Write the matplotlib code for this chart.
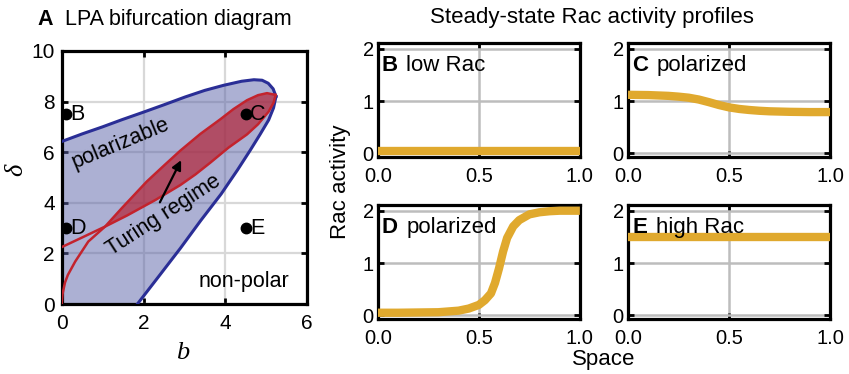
import matplotlib
matplotlib.use("Agg")
import matplotlib.pyplot as plt

plt.rcParams["font.family"] = ["Liberation Sans", "DejaVu Sans"]

# ---- panel A: LPA bifurcation diagram ----
blue_upper_b = [0.0, 0.5, 1.0, 1.47, 2.0, 2.5, 3.02, 3.5, 3.96, 4.4, 4.7, 4.9, 5.05, 5.17, 5.24]
blue_upper_d = [6.42, 6.72, 7.0, 7.28, 7.58, 7.87, 8.18, 8.44, 8.64, 8.8, 8.86, 8.84, 8.72, 8.5, 8.2]
blue_lower_b = [5.24, 5.18, 5.06, 4.85, 4.6, 4.3, 3.9, 3.4, 2.9, 2.4, 1.85]
blue_lower_d = [8.2, 7.75, 7.27, 6.7, 6.05, 5.3, 4.35, 3.3, 2.2, 1.15, 0.0]

turing1_b = [0.0, 0.02, 0.08, 0.15, 0.33, 0.65, 1.06, 1.47, 2.08, 2.5, 2.9, 3.39, 3.88, 4.2, 4.53, 4.8, 5.02, 5.23]
turing1_d = [0.0, 0.4, 0.85, 1.15, 1.68, 2.47, 3.06, 3.79, 4.84, 5.47, 6.06, 6.72, 7.3, 7.7, 8.05, 8.25, 8.33, 8.26]
turing2_b = [0.0, 0.5, 1.06, 1.6, 2.29, 2.9, 3.27, 3.63, 4.08, 4.53, 4.8, 5.06, 5.18, 5.23]
turing2_d = [2.25, 2.63, 3.06, 3.5, 4.11, 4.7, 5.12, 5.58, 6.18, 6.7, 7.1, 7.6, 7.95, 8.26]

point_names = ["B", "C", "D", "E"]
point_b = [0.1, 4.5, 0.1, 4.5]
point_d = [7.5, 7.5, 3.0, 3.0]

# ---- panels B-E: steady-state profiles ----
space_flat = [0.0, 1.0]
rac_B = [0.05, 0.05]
rac_E = [1.5, 1.5]
space_C = [0.0, 0.1, 0.2, 0.25, 0.3, 0.35, 0.4, 0.45, 0.5, 0.55, 0.6, 0.65, 0.7, 0.8, 0.9, 1.0]
rac_C = [1.12, 1.115, 1.1, 1.085, 1.065, 1.03, 0.98, 0.925, 0.88, 0.85, 0.83, 0.815, 0.805,
         0.795, 0.79, 0.79]
space_D = [0.0, 0.1, 0.2, 0.3, 0.4, 0.45, 0.5, 0.53, 0.56, 0.58, 0.6, 0.62, 0.64,
           0.67, 0.7, 0.75, 0.8, 0.85, 0.9, 1.0]
rac_D = [0.05, 0.05, 0.055, 0.06, 0.09, 0.13, 0.2, 0.29, 0.42, 0.62, 0.9, 1.22, 1.48,
         1.7, 1.82, 1.93, 1.97, 1.99, 2.0, 2.0]

BLUE_FILL = "#5a62a8"
BLUE_LINE = "#2a2e96"
RED_FILL = "#b22337"
RED_LINE = "#c3232d"
GOLD = "#e0a92e"


def style_box(ax, pad_x, pad_y, size):
    for s in ax.spines.values():
        s.set_linewidth(2.3)
    ax.tick_params(direction="in", top=True, right=True, length=4, width=2,
                   labelsize=size)
    ax.tick_params(axis="x", pad=pad_x)
    ax.tick_params(axis="y", pad=pad_y)
    ax.set_axisbelow(True)


fig = plt.figure(figsize=(8.49, 3.74), dpi=100)

# panel A
axA = fig.add_axes([0.0727, 0.187, 0.289, 0.677])
axA.grid(True, color="#d8d8d8", lw=1.6)
poly_b = blue_upper_b + blue_lower_b + [0.0]
poly_d = blue_upper_d + blue_lower_d + [0.0]
axA.fill(poly_b, poly_d, color=BLUE_FILL, lw=0, alpha=0.5, zorder=2)
axA.plot(blue_upper_b, blue_upper_d, color=BLUE_LINE, lw=2.2, zorder=4)
axA.plot(blue_lower_b, blue_lower_d, color=BLUE_LINE, lw=2.2, zorder=4)

# Turing region: between the two red curves, from their crossing to the tip
i1 = turing1_b.index(1.06)
i2 = turing2_b.index(1.06)
red_b = turing1_b[i1:] + turing2_b[i2:][::-1]
red_d = turing1_d[i1:] + turing2_d[i2:][::-1]
axA.fill(red_b, red_d, color=RED_FILL, lw=0, alpha=0.7, zorder=3)
axA.plot(turing1_b, turing1_d, color=RED_LINE, lw=1.8, zorder=4)
axA.plot(turing2_b, turing2_d, color=RED_LINE, lw=1.8, zorder=4)

axA.plot(point_b, point_d, "o", color="black", ms=7.5, zorder=5)
for name, b, d in zip(point_names, point_b, point_d):
    axA.text(b + 0.1, d, name, fontsize=15.5, va="center", ha="left", zorder=6)

axA.text(1.45, 6.33, "polarizable", fontsize=15.5, rotation=22.5,
         ha="center", va="center", zorder=6)
axA.text(2.5, 3.5, "Turing regime", fontsize=15.5, rotation=33,
         ha="center", va="center", zorder=6)
axA.text(4.45, 0.9, "non-polar", fontsize=15.5, ha="center", va="center", zorder=6)
axA.annotate("", xy=(2.95, 5.78), xytext=(2.37, 3.92),
             arrowprops=dict(arrowstyle="-|>", color="black", lw=1.6,
                             mutation_scale=14), zorder=6)

axA.set_xlim(0, 6)
axA.set_ylim(0, 10)
axA.set_xticks([0, 2, 4, 6])
axA.set_yticks([0, 2, 4, 6, 8, 10])
style_box(axA, pad_x=7, pad_y=5, size=15)
fig.text(0.215, 0.055, "b", fontsize=19, family="Liberation Serif",
         style="italic", ha="center", va="center")
fig.text(0.019, 0.545, "δ", fontsize=19, family="Liberation Serif",
         style="italic", ha="center", va="center", rotation=90)

fig.text(37 / 849, 0.933, "A", fontsize=15.5, weight="bold", va="baseline")
fig.text(65 / 849, 0.933, "LPA bifurcation diagram", fontsize=15.5, va="baseline")

# panels B-E
panels = [
    ("B", "low Rac", [0.445, 0.580, 0.238, 0.305], space_flat, rac_B),
    ("C", "polarized", [0.7397, 0.580, 0.238, 0.305], space_C, rac_C),
    ("D", "polarized", [0.445, 0.147, 0.238, 0.305], space_D, rac_D),
    ("E", "high Rac", [0.7397, 0.147, 0.238, 0.305], space_flat, rac_E),
]
for letter, label, rect, xs, ys in panels:
    ax = fig.add_axes(rect)
    ax.grid(True, color="#bdbdbd", lw=1.8)
    ax.plot(xs, ys, color=GOLD, lw=6, solid_capstyle="butt", zorder=3)
    ax.set_xlim(0, 1)
    ax.set_ylim(-0.07, 2.11)
    ax.set_xticks([0, 0.5, 1.0])
    ax.set_xticklabels(["0.0", "0.5", "1.0"])
    ax.set_yticks([0, 1, 2])
    ax.text(0.02, 1.58, letter, fontsize=16, weight="bold", va="baseline", zorder=5)
    ax.text(0.14, 1.58, label, fontsize=16, va="baseline", zorder=5)
    style_box(ax, pad_x=7, pad_y=3, size=14.5)

fig.text(591.7 / 849, 0.953, "Steady-state Rac activity profiles",
         fontsize=16, ha="center", va="center")
fig.text(0.401, 0.515, "Rac activity", fontsize=16, rotation=90,
         ha="center", va="center")
fig.text(604 / 849, 0.04, "Space", fontsize=16, ha="center", va="center")

fig.savefig("out.png", dpi=100)
